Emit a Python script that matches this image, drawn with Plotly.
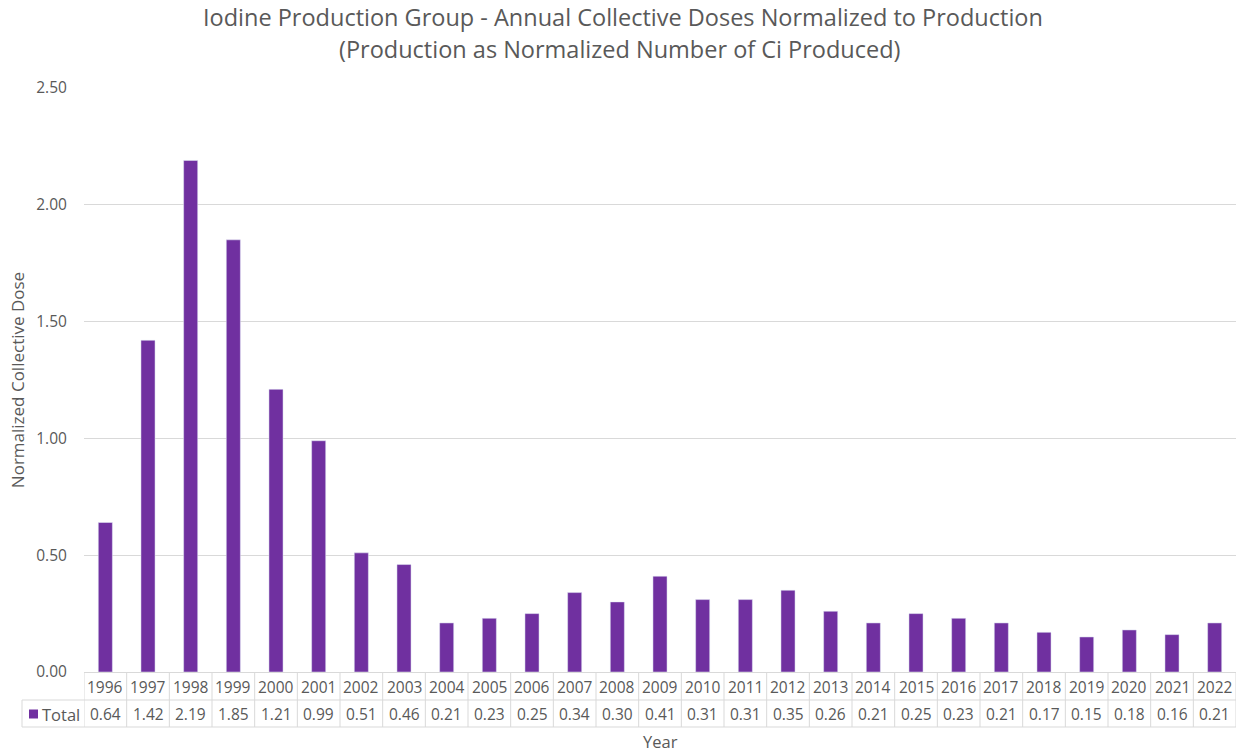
import plotly.graph_objects as go

years = [str(y) for y in range(1996, 2023)]
totals = [0.64, 1.42, 2.19, 1.85, 1.21, 0.99, 0.51, 0.46, 0.21, 0.23, 0.25, 0.34,
          0.30, 0.41, 0.31, 0.31, 0.35, 0.26, 0.21, 0.25, 0.23, 0.21, 0.17, 0.15,
          0.18, 0.16, 0.21]
y_ticks = [0, 0.5, 1.0, 1.5, 2.0, 2.5]

BAR = "#7030A0"
TXT = "#595959"
GRID = "#D9D9D9"
FONT = "Open Sans"

W, H = 1242, 754
L, R, T, B = 84, 6, 88, 82
pw, ph = W - L - R, H - T - B


def px_x(px):
    return (px - L) / pw


def px_y(py):
    return (H - B - py) / ph


idx = list(range(len(years)))
fig = go.Figure(go.Bar(x=idx, y=totals, marker_color=BAR, width=0.33,
                       showlegend=False))

shapes = []
annotations = []
n = len(years)
row1_bot = px_y(700)
row2_bot = px_y(727)
legend_left = px_x(22)

# data table grid below the plot
for i in range(n + 1):
    shapes.append(dict(type="line", xref="x", yref="paper", x0=i - 0.5, x1=i - 0.5,
                       y0=0, y1=row2_bot, line=dict(color=GRID, width=1)))
for yy in (row1_bot, row2_bot):
    shapes.append(dict(type="line", xref="paper", yref="paper", x0=legend_left, x1=1,
                       y0=yy, y1=yy, line=dict(color=GRID, width=1)))
shapes.append(dict(type="line", xref="paper", yref="paper", x0=legend_left, x1=legend_left,
                   y0=row1_bot, y1=row2_bot, line=dict(color=GRID, width=1)))
# legend key square
shapes.append(dict(type="rect", xref="paper", yref="paper", x0=px_x(29), x1=px_x(38),
                   y0=px_y(718.5), y1=px_y(709.5), fillcolor=BAR, line=dict(width=0)))


def label(x, y, text, size, xref="paper", xanchor="center"):
    return dict(x=x, y=y, xref=xref, yref="paper", text=text, showarrow=False,
                xanchor=xanchor, yanchor="middle",
                font=dict(size=size, color=TXT, family=FONT))


for i, (yr, v) in enumerate(zip(years, totals)):
    annotations.append(label(i, px_y(686.5), yr, 15.5, xref="x"))
    annotations.append(label(i, px_y(714), f"{v:.2f}", 15.5, xref="x"))
annotations.append(label(px_x(40), px_y(714), "Total", 16.5, xanchor="left"))
year_lbl = label(0.5, px_y(741), "Year", 16.5)
year_lbl["borderpad"] = 0
annotations.append(year_lbl)

# two-line chart title
annotations.append(label(px_x(623), px_y(17), "Iodine Production Group - Annual Collective "
                         "Doses Normalized to Production", 23.5))
annotations.append(label(px_x(620), px_y(49), "(Production as Normalized Number of Ci "
                         "Produced)", 23.5))

fig.update_layout(
    width=W, height=H,
    margin=dict(l=L, r=R, t=T, b=B),
    paper_bgcolor="white", plot_bgcolor="white",
    font=dict(family=FONT, color=TXT, size=15),
    xaxis=dict(type="linear", showticklabels=False, showgrid=False, zeroline=False,
               showline=False, range=[-0.5, n - 0.5]),
    yaxis=dict(range=[0, 2.5], tickvals=y_ticks, tickformat=".2f",
               showgrid=True, gridcolor=GRID, gridwidth=1, zeroline=True,
               zerolinecolor=GRID, zerolinewidth=1, ticks="outside", ticklen=13,
               tickcolor="rgba(0,0,0,0)", tickfont=dict(size=15.5, color=TXT, family=FONT),
               title=dict(text="Normalized Collective Dose", standoff=7,
                          font=dict(size=17, color=TXT, family=FONT))),
    shapes=shapes,
    annotations=annotations,
)

fig.write_html("out.html")
